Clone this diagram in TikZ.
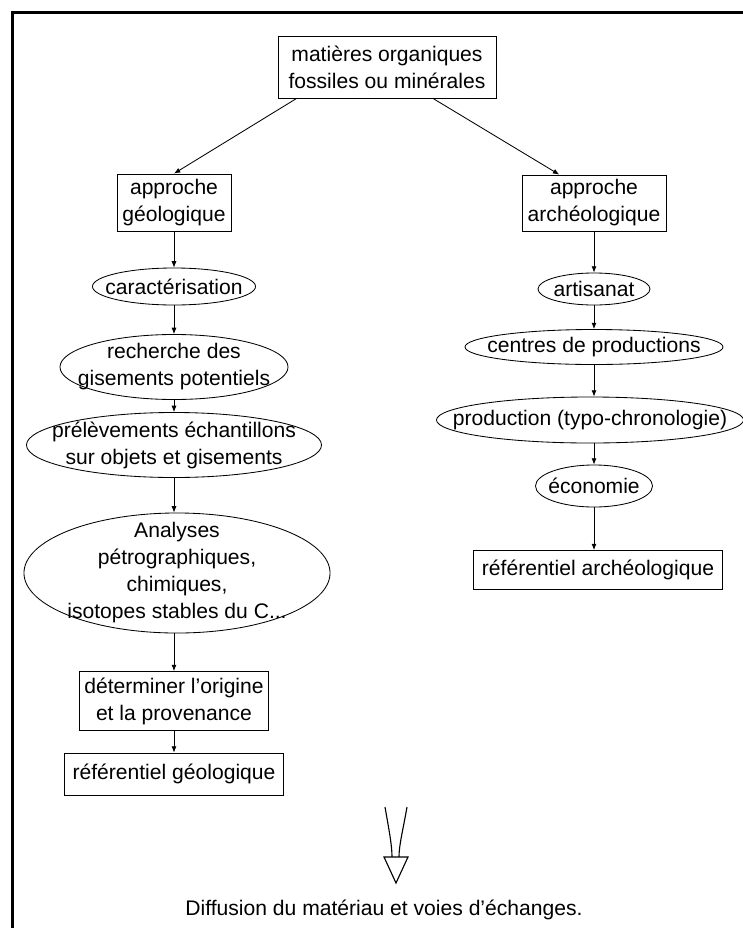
\documentclass[tikz,border=0pt]{standalone}
\usepackage{fontspec}
\setmainfont{Liberation Sans}
\usetikzlibrary{shapes.geometric,arrows.meta,calc}
\begin{document}
\begin{tikzpicture}[x=0.025cm,y=-0.025cm,
        font=\fontsize{15}{19.2}\selectfont,
        >={Latex[length=4.5pt,width=3.6pt]},
        box/.style={draw,line width=0.6pt,align=center,inner sep=0pt},
        oval/.style={draw,ellipse,line width=0.6pt,align=center,inner xsep=-60pt,inner ysep=-40pt},
        link/.style={->,line width=0.6pt}]
    \useasboundingbox (0,0) rectangle (743,928);
    \draw[line width=2.2pt] (12.5,928) -- (12.5,12.5) -- (743,12.5);
    \node[box,minimum width=5.45cm,minimum height=1.55cm] (top) at (387,67) {matières organiques\\fossiles ou minérales};
    \node[box,minimum width=2.85cm,minimum height=1.425cm] (geo) at (174,202.5) {approche\\géologique};
    \node[box,minimum width=3.6cm,minimum height=1.4cm] (arc) at (594,203) {approche\\archéologique};
    \node[oval,minimum width=4.075cm,minimum height=0.925cm] (carac) at (174,286.5) {caractérisation};
    \node[oval,minimum width=5.7cm,minimum height=1.625cm] (rech) at (174,367) {recherche des\\gisements potentiels};
    \node[oval,minimum width=7.375cm,minimum height=1.625cm] (prel) at (174,445) {prélèvements échantillons\\sur objets et gisements};
    \node[oval,minimum width=7.65cm,minimum height=3cm] (anal) at (177,573) {Analyses\\pétrographiques,\\chimiques,\\isotopes stables du C...};
    \node[box,minimum width=4.725cm,minimum height=1.475cm] (orig) at (174,701) {déterminer l'origine\\et la provenance};
    \node[box,minimum width=5.475cm,minimum height=1.05cm] (refgeo) at (174,774) {référentiel géologique};
    \node[oval,minimum width=2.8cm,minimum height=0.8cm] (artis) at (594,289) {artisanat};
    \node[oval,minimum width=6.45cm,minimum height=0.875cm] (centres) at (594,347) {centres de productions};
    \node[oval,minimum width=7.675cm,minimum height=1.15cm] (prod) at (590,420) {production (typo-chronologie)};
    \node[oval,minimum width=2.925cm,minimum height=1.05cm] (eco) at (594,486) {économie};
    \node[box,minimum width=6.225cm,minimum height=0.975cm] (refarc) at (598,570) {référentiel archéologique};
    \node (diff) at (384,910) {Diffusion du matériau et voies d'échanges.};
    \draw[link] ($(top.south west)!0.087!(top.south east)$) -- (geo.north);
    \draw[link] ($(top.south west)!0.71!(top.south east)$) -- ($(arc.north west)!0.26!(arc.north east)$);
    \draw[link] (geo) -- (carac);
    \draw[link] (carac) -- (rech);
    \draw[link] (rech) -- (prel);
    \draw[link] (prel.south) -- (prel.south |- anal.north);
    \draw[link] (anal.south -| orig) -- (orig);
    \draw[link] (orig) -- (refgeo);
    \draw[link] (arc) -- (artis);
    \draw[link] (artis) -- (centres);
    \draw[link] (centres.south) -- (centres.south |- prod.north);
    \draw[link] (prod.south -| eco) -- (eco);
    \draw[link] (eco.south) -- (eco.south |- refarc.north);
    \coordinate (tail) at (396,807);
    \draw[line width=0.8pt] ($(tail)+(-11,0)$) .. controls ($(tail)+(-7,23)$) and ($(tail)+(-4,38)$) .. ($(tail)+(-4,50)$);
    \draw[line width=0.8pt] ($(tail)+(11,0)$) .. controls ($(tail)+(7,23)$) and ($(tail)+(3,38)$) .. ($(tail)+(3,50)$);
    \draw[line width=0.8pt,fill=white] ($(tail)+(-12,50)$) -- ($(tail)+(12,50)$) -- ($(tail)+(0,76)$) -- cycle;
\end{tikzpicture}
\end{document}
